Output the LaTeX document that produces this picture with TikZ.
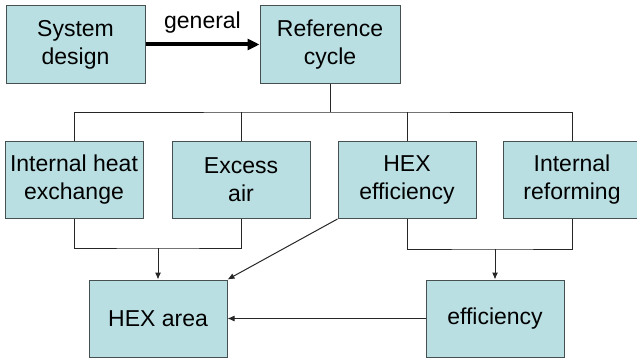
\documentclass[tikz,border=0pt]{standalone}
\usepackage{fontspec}
\setmainfont{Liberation Sans}
\usetikzlibrary{arrows.meta}
\definecolor{boxfill}{RGB}{185,223,227}
\definecolor{boxline}{RGB}{70,80,80}
\tikzstyle{blk} = [rectangle, draw = boxline, fill = boxfill, line width = 1pt, inner sep = 0pt, minimum width = 138pt, minimum height = 77pt, align = center, font = \fontsize{23}{28}\selectfont]
\tikzstyle{wire} = [draw = black!85, line width = 1pt]
\tikzstyle{arr} = [wire, -{Latex[length = 7pt, width = 6pt]}]

\begin{document}
\begin{tikzpicture}[x = 1pt, y = -1pt]
            \useasboundingbox (0, 0) rectangle (637, 361);
            \node (sys) at (75.5, 44.5) [blk, minimum width = 139pt] {System\\design};
            \node (ref) at (330, 44.5) [blk, minimum width = 140pt] {Reference\\cycle};
            \node (ihe) at (74, 180) [blk] {Internal heat\\exchange};
            \node (exa) at (241, 180) [blk] {Excess\\air};
            \node (hexe) at (407, 180) [blk] {HEX\\efficiency};
            \node (ire) at (572, 180) [blk] {Internal\\reforming};
            \node (area) at (158, 318.5) [blk] {HEX area};
            \node (eff) at (495, 318.5) [blk] {efficiency};
            \coordinate (split) at (330, 112);
            \coordinate (j1) at (158, 248);
            \coordinate (j2) at (495, 249);
            \draw [-{Triangle[length = 12pt, width = 11pt]}, line width = 4pt] (sys) -- node [above = 6pt, font = \fontsize{23}{28}\selectfont] (gen) {general} (ref);
            \draw [wire] (ref) -- (split);
            \draw [wire] (ihe.north) |- (split) -| (ire.north);
            \draw [wire] (exa.north) -- (exa.north |- split);
            \draw [wire] (hexe.north) -- (hexe.north |- split);
            \draw [wire] (ihe.south) |- (j1) -| (exa.south);
            \draw [wire] (hexe.south) |- (j2) -| (ire.south);
            \draw [arr] (j1) -- (area);
            \draw [arr] (j2) -- (eff);
            \draw [arr] (hexe.south west) -- (area.north east);
            \draw [arr] (eff) -- (area);
        \end{tikzpicture}
\end{document}
